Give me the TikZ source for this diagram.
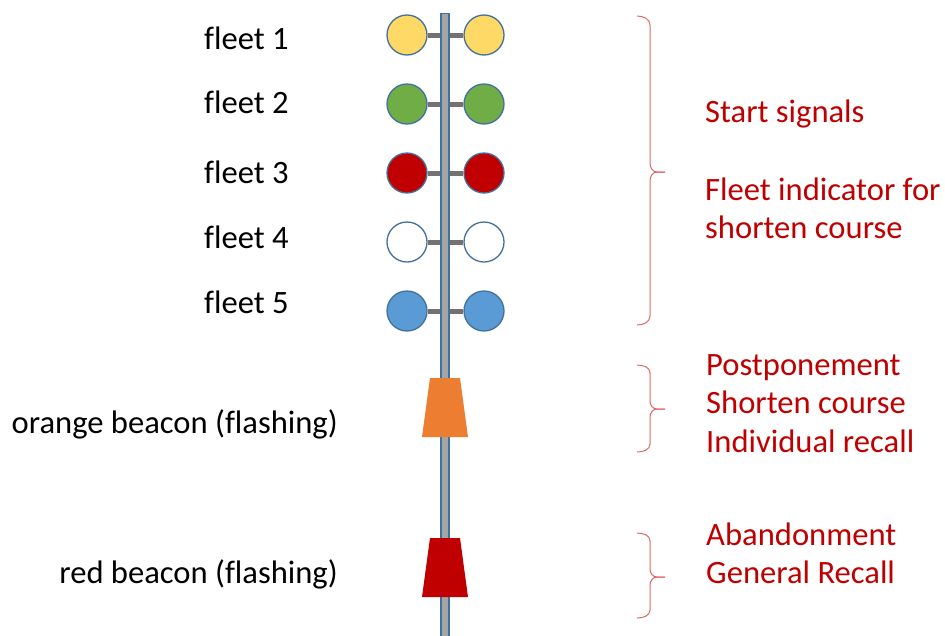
\documentclass[tikz,border=0pt]{standalone}
\usepackage{fontspec}
\setmainfont[Ligatures=NoCommon]{Carlito}
\usetikzlibrary{backgrounds}
\definecolor{rim}{HTML}{41719C}
\definecolor{polefill}{HTML}{A5A5A5}
\definecolor{barcol}{HTML}{767171}
\definecolor{cyellow}{HTML}{FFD966}
\definecolor{cgreen}{HTML}{70AD47}
\definecolor{cred}{HTML}{C00000}
\definecolor{cblue}{HTML}{5B9BD5}
\definecolor{corange}{HTML}{ED7D31}
\definecolor{txtred}{HTML}{C00000}
\definecolor{bracecol}{HTML}{E06666}
\tikzset{
  lamp/.style={circle, draw=rim, line width=1.3pt, minimum size=40pt, inner sep=0pt},
  bar/.style={draw=barcol, line width=5pt},
  lbl/.style={anchor=base west, inner sep=0pt, font=\fontsize{32.6}{38}\selectfont},
  lblr/.style={anchor=base east, inner sep=0pt, font=\fontsize{32.6}{38}\selectfont},
  rlbl/.style={anchor=base west, inner sep=0pt, text=txtred, font=\fontsize{32.6}{38}\selectfont},
  bracestyle/.style={draw=bracecol, line width=1pt},
}
\begin{document}
\begin{tikzpicture}[x=1pt, y=-1pt]
\useasboundingbox (0,0) rectangle (945,635);
% lamps
\foreach \i/\y/\c in {1/35/cyellow, 2/104/cgreen, 3/173/cred, 4/242/white, 5/311/cblue}{
  \node[lamp, fill=\c] (L\i) at (407,\y) {};
  \node[lamp, fill=\c] (R\i) at (484,\y) {};
}
\begin{pgfonlayer}{background}
  \foreach \i in {1,...,5}{ \draw[bar] (L\i.east) -- (R\i.west); }
  \node[draw=rim, fill=polefill, line width=1.2pt, minimum width=8pt, minimum height=625pt, inner sep=0pt, anchor=north] (pole) at (445,13) {};
\end{pgfonlayer}
% beacons
\fill[corange] (430,378) -- (460,378) -- (468,437) -- (422,437) -- cycle;
\fill[cred] (430,538) -- (460,538) -- (468,597) -- (422,597) -- cycle;
% left labels
\node[lbl] (f1) at (204,49) {fleet 1};
\node[lbl] (f2) at (204,113) {fleet 2};
\node[lbl] (f3) at (204,183) {fleet 3};
\node[lbl] (f4) at (204,248) {fleet 4};
\node[lbl] (f5) at (204,313) {fleet 5};
\node[lblr] (ob) at (338,433) {orange beacon (flashing)};
\node[lblr] (rb) at (338,583) {red beacon (flashing)};
% right labels
\node[rlbl] (t1) at (705,122) {Start signals};
\node[rlbl] (t2) at (705,200) {Fleet indicator for};
\node[rlbl] (t3) at (705,238) {shorten course};
\node[rlbl] (t4) at (706,375) {Postponement};
\node[rlbl] (t5) at (706,413) {Shorten course};
\node[rlbl] (t6) at (706,452) {Individual recall};
\node[rlbl] (t7) at (706,545) {Abandonment};
\node[rlbl] (t8) at (706,583) {General Recall};
% braces
\draw[bracestyle] (637,16) to[out=0,in=90] (650,25) -- (650,163) to[out=-90,in=180] (657,172) -- (665,172);
\draw[bracestyle] (665,172) -- (657,172) to[out=180,in=90] (650,181) -- (650,316) to[out=-90,in=0] (637,325);
\draw[bracestyle] (637,365) to[out=0,in=90] (650,373) -- (650,401) to[out=-90,in=180] (657,409) -- (665,409);
\draw[bracestyle] (665,409) -- (657,409) to[out=180,in=90] (650,417) -- (650,444) to[out=-90,in=0] (637,452);
\draw[bracestyle] (637,533) to[out=0,in=90] (650,541) -- (650,569) to[out=-90,in=180] (657,577) -- (665,577);
\draw[bracestyle] (665,577) -- (657,577) to[out=180,in=90] (650,585) -- (650,610) to[out=-90,in=0] (637,618);
\end{tikzpicture}
\end{document}
